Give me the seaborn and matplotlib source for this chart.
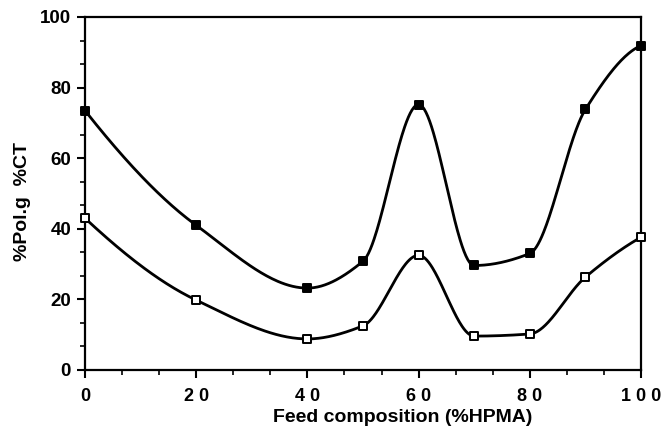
import numpy as np
import pandas as pd
import seaborn as sns
import matplotlib
matplotlib.use("Agg")
import matplotlib.pyplot as plt
from matplotlib.ticker import MultipleLocator, FixedLocator

# Feed composition (%HPMA) and measured responses
feed = [0, 20, 40, 50, 60, 70, 80, 90, 100]
pol_g = [73.5, 41.0, 23.2, 30.8, 75.2, 29.6, 33.0, 73.8, 91.9]   # filled squares
ct = [43.0, 19.8, 8.8, 12.5, 32.5, 9.6, 10.2, 26.3, 37.6]        # open squares

x_ticks = [0, 20, 40, 60, 80, 100]
x_tick_labels = ["0", "2 0", "4 0", "6 0", "8 0", "1 0 0"]
y_ticks = [0, 20, 40, 60, 80, 100]


def pchip_slopes(x, y):
    """Fritsch-Carlson monotone slopes at each point."""
    h = np.diff(x)
    d = np.diff(y) / h
    m = np.zeros_like(y)
    for k in range(1, len(x) - 1):
        if d[k - 1] * d[k] > 0:
            w1 = 2 * h[k] + h[k - 1]
            w2 = h[k] + 2 * h[k - 1]
            m[k] = (w1 + w2) / (w1 / d[k - 1] + w2 / d[k])
    # end points: three-point formula, clipped to keep the shape
    for k, (hh0, hh1, dd0, dd1) in [(0, (h[0], h[1], d[0], d[1])),
                                   (-1, (h[-1], h[-2], d[-1], d[-2]))]:
        mk = ((2 * hh0 + hh1) * dd0 - hh0 * dd1) / (hh0 + hh1)
        if np.sign(mk) != np.sign(dd0):
            mk = 0.0
        elif np.sign(dd0) != np.sign(dd1) and abs(mk) > abs(3 * dd0):
            mk = 3 * dd0
        m[k] = mk
    return m


def smooth(x, y, n=60):
    """Piecewise cubic Hermite curve through the points."""
    x = np.asarray(x, float)
    y = np.asarray(y, float)
    m = pchip_slopes(x, y)
    xs, ys = [], []
    for i in range(len(x) - 1):
        h = x[i + 1] - x[i]
        t = np.linspace(0, 1, n, endpoint=(i == len(x) - 2))
        h00 = 2 * t**3 - 3 * t**2 + 1
        h10 = t**3 - 2 * t**2 + t
        h01 = -2 * t**3 + 3 * t**2
        h11 = t**3 - t**2
        xs.append(x[i] + t * h)
        ys.append(h00 * y[i] + h10 * h * m[i] + h01 * y[i + 1] + h11 * h * m[i + 1])
    return np.concatenate(xs), np.concatenate(ys)


sns.set_theme(style="ticks")
plt.rcParams["font.family"] = ["Liberation Sans", "DejaVu Sans"]
plt.rcParams["font.weight"] = "bold"
plt.rcParams["text.color"] = "black"
plt.rcParams["axes.labelcolor"] = "black"

fig = plt.figure(figsize=(6.66, 4.26), dpi=100)
ax = fig.add_axes([0.1276, 0.1315, 0.8348, 0.8286])

for values, face in [(pol_g, "black"), (ct, "white")]:
    sx, sy = smooth(feed, values)
    sns.lineplot(x=sx, y=sy, ax=ax, color="black", linewidth=2.0,
                 sort=False, estimator=None)
    sns.scatterplot(x=feed, y=values, ax=ax, marker="s", s=36,
                    facecolor=face, edgecolor="black", linewidth=1.4,
                    zorder=5, clip_on=False)

ax.set_xlim(0, 100)
ax.set_ylim(0, 100)
ax.xaxis.set_major_locator(FixedLocator(x_ticks))
ax.set_xticklabels(x_tick_labels)
ax.yaxis.set_major_locator(FixedLocator(y_ticks))
ax.xaxis.set_minor_locator(MultipleLocator(20 / 3))
ax.yaxis.set_minor_locator(MultipleLocator(20 / 3))

for side in ["top", "right", "left", "bottom"]:
    ax.spines[side].set_visible(True)
    ax.spines[side].set_linewidth(1.6)
    ax.spines[side].set_color("black")

ax.tick_params(which="major", direction="out", length=6, width=1.5,
               labelsize=13.5, colors="black", labelcolor="black", pad=4)
ax.tick_params(axis="x", which="major", labelsize=13, pad=7)
ax.tick_params(which="minor", direction="out", length=3.5, width=1.2,
               colors="black")
ax.tick_params(axis="x", which="both", top=False)
ax.tick_params(axis="y", which="both", right=False)
for lbl in ax.get_xticklabels() + ax.get_yticklabels():
    lbl.set_fontweight("bold")

ax.set_xlabel("Feed composition (%HPMA)", fontsize=14, fontweight="bold",
              color="black")
ax.xaxis.set_label_coords(0.572, -0.110)
ax.xaxis.label.set_va("top")
ax.set_ylabel("%Pol.g  %CT", fontsize=14, fontweight="bold", color="black")
ax.yaxis.set_label_coords(-0.112, 0.476)
ax.yaxis.label.set_va("center")

fig.savefig("out.png", dpi=100, facecolor="white")
